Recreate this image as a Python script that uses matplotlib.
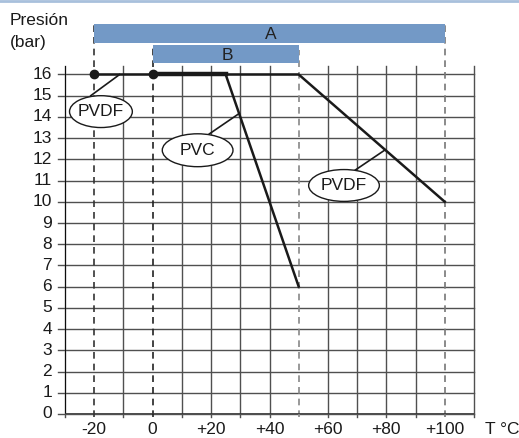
import matplotlib.pyplot as plt
from matplotlib.patches import Ellipse
from matplotlib.lines import Line2D

plt.rcParams['font.family'] = ['Liberation Sans', 'DejaVu Sans']

# pressure curves (T in degC, p in bar)
pvdf_t = [-20, 50, 100]
pvdf_p = [16, 16, 10]
pvc_t = [0, 25, 50]
pvc_p = [16, 16, 6]

# temperature ranges
range_names = ["A", "B"]
range_start = [-20, 0]
range_end = [100, 50]

x_ticks = [-20, 0, 20, 40, 60, 80, 100]
x_labels = ["-20", "0", "+20", "+40", "+60", "+80", "+100"]
y_ticks = list(range(0, 17))

fs = 12.5

fig = plt.figure(figsize=(5.19, 4.38), dpi=100)
ax = fig.add_axes([65/519, 24/438, 409/519, 348/438])
ax.set_xlim(-30, 110)
ax.set_ylim(0, 16.4)
ax.axis('off')

# grid
for y in y_ticks:
    ax.plot([-32.4, 110], [y, y], color='#505050', lw=1, clip_on=False, zorder=1)
for x in range(-30, 111, 10):
    if x in (-20, 0, 50, 100):
        continue
    ax.plot([x, x], [-0.14, 16.4], color='#505050', lw=1, clip_on=False, zorder=1)
ax.plot([-30, -30], [0, 16.4], color='black', lw=1.2, zorder=2)
ax.plot([-30, 110], [0, 0], color='#333333', lw=1.2, zorder=2)

# dashed range limits
dash_top = {-20: 18.38, 0: 17.39, 50: 17.15, 100: 18.4}
dash_col = {-20: '#333333', 0: '#222222', 50: '#888888', 100: '#777777'}
for x in (-20, 0, 50, 100):
    ax.plot([x, x], [-0.14, dash_top[x]], color=dash_col[x], lw=1.2,
            ls=(0, (4, 3)), clip_on=False, zorder=1)

# range bars
bar_y = [17.935, 16.965]
for name, s, e, yc in zip(range_names, range_start, range_end, bar_y):
    ax.barh(yc, e - s, left=s, height=0.87, color='#7399c6', clip_on=False, zorder=3)
    ax.text((s + e) / 2 + 0.5, yc - 0.05, name, ha='center', va='center',
            fontsize=fs, color='#222222', zorder=4)

# curves
ax.plot(pvdf_t, pvdf_p, color='#1a1a1a', lw=1.8, zorder=5, clip_on=False)
ax.plot(pvc_t, pvc_p, color='#1a1a1a', lw=1.8, zorder=5, clip_on=False)
ax.plot(pvc_t[:2], pvc_p[:2], color='#1a1a1a', lw=3.2, zorder=5, clip_on=False)
ax.plot([pvdf_t[0], pvc_t[0]], [pvdf_p[0], pvc_p[0]], 'o', color='#1a1a1a',
        ms=6, zorder=6, clip_on=False)

# callouts
callouts = [("PVDF", -17.7, 14.25, 21.5, 1.5, (-21.2, 15.0), (-11.3, 16.0)),
            ("PVC", 15.4, 12.43, 24.2, 1.55, (19.4, 13.2), (29.6, 14.16)),
            ("PVDF", 65.5, 10.77, 24.2, 1.5, (69.4, 11.5), (79.6, 12.45))]
for label, cx, cy, w, h, p0, p1 in callouts:
    ax.plot([p0[0], p1[0]], [p0[1], p1[1]], color='#1a1a1a', lw=1.2, zorder=6)
    ax.add_patch(Ellipse((cx, cy), w, h, facecolor='white', edgecolor='#1a1a1a',
                         lw=1, zorder=7))
    ax.text(cx, cy, label, ha='center', va='center', fontsize=fs,
            color='#1a1a1a', zorder=8)

# tick labels
for y in y_ticks:
    ax.text(-34.4, y, str(y), ha='right', va='center', fontsize=fs, color='#1a1a1a',
            clip_on=False)
for x, lab in zip(x_ticks, x_labels):
    ax.text(x, -0.94, lab, ha='center', va='baseline', fontsize=fs, color='#1a1a1a',
            clip_on=False)

fig.text(485/519, 1 - 434/438, "T °C", ha='left', va='baseline', fontsize=fs, color='#1a1a1a')
fig.text(10/519, 1 - 25/438, "Presión", ha='left', va='baseline', fontsize=fs, color='#1a1a1a')
fig.text(10/519, 1 - 47/438, "(bar)", ha='left', va='baseline', fontsize=fs, color='#1a1a1a')

# top border
fig.add_artist(Line2D([0, 1], [0.998, 0.998], transform=fig.transFigure,
                      color='#a8c0dc', lw=2))

fig.savefig("out.png", dpi=100)
